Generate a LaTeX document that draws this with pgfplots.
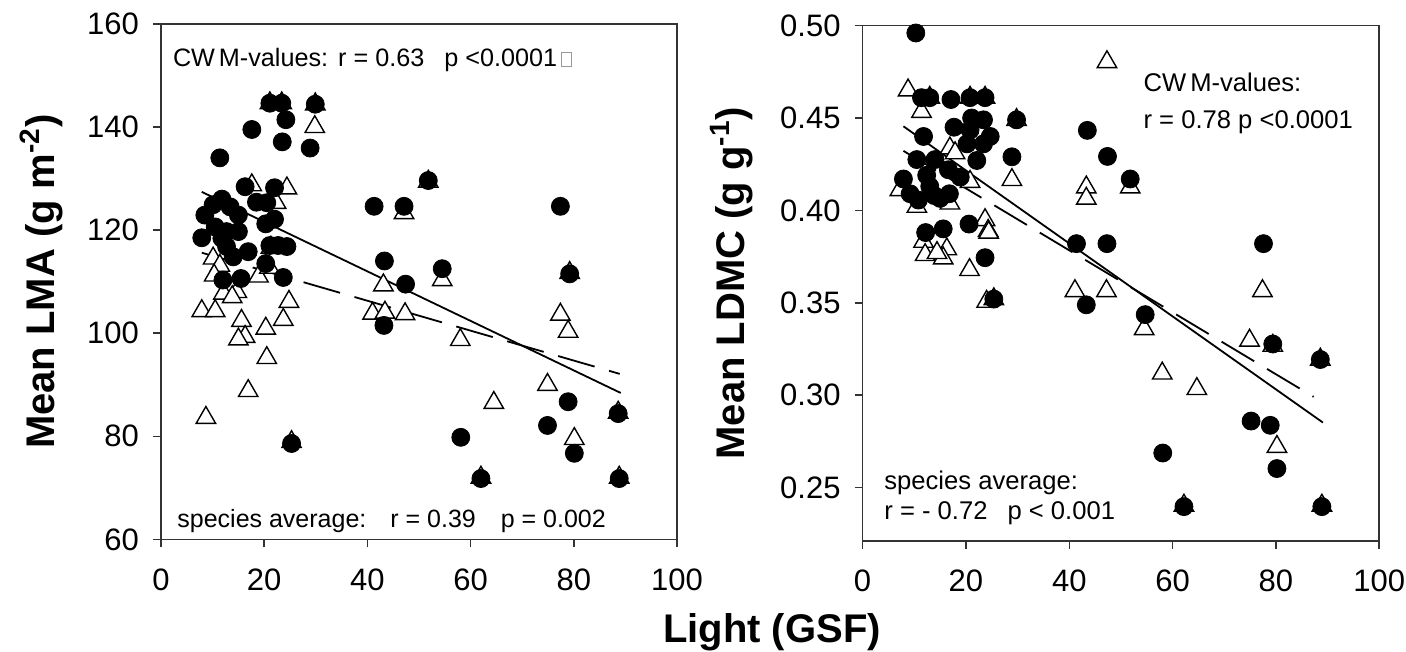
\documentclass[border=0pt]{standalone}
\usepackage{pgfplots}
\usepackage{pgfplotstable}
\pgfplotsset{compat=1.18}
\usepackage{fontspec}
\setmainfont{Liberation Sans}

\pgfplotstableread{
x y
21.1 144.6
23.4 144.6
29.9 144.4
24.2 141.4
17.6 139.5
23.5 137.1
28.9 135.9
11.4 134.0
16.3 128.4
22.0 128.2
51.8 129.6
41.3 124.6
47.1 124.6
77.4 124.6
11.8 126.0
18.5 125.4
20.5 125.3
10.1 124.9
13.4 124.5
8.5 122.9
15.0 122.9
22.0 122.1
20.3 121.2
10.5 120.6
12.7 119.7
15.0 119.7
7.9 118.5
11.8 118.4
21.1 117.0
22.7 117.0
24.4 116.8
12.7 116.8
16.9 115.8
14.0 114.8
20.3 113.5
12.0 110.3
15.5 110.6
23.7 110.8
43.3 114.0
47.4 109.5
54.5 112.5
79.2 111.5
43.2 101.5
25.3 78.6
58.1 79.8
74.9 82.1
78.9 86.7
80.1 76.7
62.0 71.8
88.6 84.4
88.8 71.8
}\leftcirc

\pgfplotstableread{
x y
21.1 144.6
23.4 144.6
29.9 144.4
29.8 140.0
17.6 128.7
24.4 128.1
22.3 125.3
21.3 116.6
51.8 129.4
47.1 123.3
79.2 111.7
10.1 114.5
11.4 113.1
10.3 111.2
12.1 107.7
14.7 108.0
13.8 107.0
18.9 111.0
21.0 112.7
7.9 104.3
10.5 104.3
24.8 106.1
23.7 102.6
15.6 102.4
20.3 100.9
16.3 99.3
15.0 98.8
20.5 95.2
16.9 88.8
8.7 83.6
25.3 78.9
43.1 109.3
41.0 103.8
43.4 104.0
47.3 103.7
54.5 110.3
58.0 98.7
64.5 86.5
74.9 90.0
77.4 103.6
78.9 100.3
80.1 79.5
62.0 72.0
88.6 84.6
88.8 72.0
}\lefttri

\pgfplotstableread{
x y
10.3 0.496
11.4 0.461
13.0 0.461
17.1 0.460
20.8 0.461
23.7 0.461
29.8 0.449
21.1 0.450
23.4 0.449
17.7 0.445
20.8 0.4435
11.8 0.440
24.7 0.440
23.4 0.436
20.2 0.436
22.1 0.427
28.9 0.429
10.5 0.4275
14.0 0.4275
7.9 0.417
16.6 0.422
18.9 0.418
12.4 0.419
9.2 0.409
13.0 0.413
13.9 0.408
10.8 0.4056
15.0 0.4065
16.8 0.409
20.6 0.3926
12.2 0.388
15.6 0.390
23.7 0.3744
25.4 0.352
43.5 0.4433
47.4 0.4292
51.8 0.417
41.4 0.382
47.3 0.382
43.3 0.3489
54.7 0.3436
77.6 0.382
79.4 0.3277
88.6 0.3193
75.2 0.286
78.9 0.2837
58.1 0.2687
80.2 0.2603
62.2 0.2397
88.9 0.2397
}\rightcirc

\pgfplotstableread{
x y
8.8 0.465
11.4 0.4534
13.0 0.461
20.8 0.461
23.7 0.461
29.8 0.449
16.9 0.4336
17.9 0.431
28.9 0.4165
20.8 0.4155
16.9 0.4038
10.5 0.402
7.2 0.411
23.7 0.3948
24.3 0.389
24.4 0.388
11.8 0.3831
16.3 0.379
12.1 0.3759
15.6 0.3741
14.4 0.377
20.7 0.3678
24.0 0.3506
25.4 0.352
47.3 0.4803
43.3 0.4125
43.3 0.4064
51.8 0.4125
41.1 0.3564
47.2 0.3564
54.5 0.3358
77.4 0.3564
74.9 0.3296
79.4 0.3268
88.6 0.3193
58.0 0.3118
64.7 0.3034
80.2 0.2721
62.2 0.2403
88.9 0.2403
}\righttri

\newcommand{\mybox}{{\color{black!40}\setlength{\fboxsep}{0pt}\setlength{\fboxrule}{0.4pt}\fbox{\rule{0pt}{7pt}\hspace{4.5pt}}}}

\pgfplotsset{
  myaxis/.style={
    scale only axis,
    anchor=south west,
    xmin=0, xmax=100,
    xtick={0,20,40,60,80,100},
    axis line style={line width=0.75pt, black!80},
    every tick/.style={line width=0.75pt, black!80},
    tick align=outside,
    major tick length=4pt,
    xtick pos=left, ytick pos=left,
    ticklabel style={font=\fontsize{15.5}{17}\selectfont},
    yticklabel style={xshift=-3.5pt},
    xticklabel style={yshift=-7pt},
    /pgf/number format/assume math mode=true,
    ylabel style={font=\fontsize{20}{24}\selectfont\bfseries},
    clip=false,
  },
  tri/.style={only marks, mark=triangle*, mark size=5.6pt,
    mark options={fill=white, draw=black, line width=0.7pt}},
  circ/.style={only marks, mark=*, mark size=4.5pt,
    mark options={fill=black, draw=black}},
}

\begin{document}
\begin{tikzpicture}
\path[use as bounding box] (0,0) rectangle (703pt,326pt);

\begin{axis}[myaxis,
  at={(80.5pt,56.3pt)}, width=258pt, height=257.8pt,
  ymin=60, ymax=160, ytick={60,80,100,120,140,160},
  ylabel={Mean LMA (g m\textsuperscript{-2})},
  ylabel style={at={(axis description cs:-0.206,0.5)}, anchor=base},
]
\addplot[tri] table {\lefttri};
\addplot[black, line width=0.9pt] coordinates {(7.9,127.4) (89.1,88.4)};
\addplot[black, line width=0.9pt, dash pattern=on 19pt off 7.5pt] coordinates {(7.9,115.6) (88.9,92.1)};
\addplot[circ] table {\leftcirc};
\end{axis}

\begin{axis}[myaxis,
  at={(431.3pt,55.5pt)}, width=258.3pt, height=257.7pt,
  ymin=0.2211, ymax=0.50, ytick={0.25,0.30,0.35,0.40,0.45,0.50},
  yticklabel style={/pgf/number format/.cd, fixed, fixed zerofill, precision=2},
  ylabel={Mean LDMC (g g\textsuperscript{-1})},
  ylabel style={at={(axis description cs:-0.228,0.5)}, anchor=base},
]
\addplot[tri] table {\righttri};
\addplot[black, line width=0.9pt] coordinates {(7.9,0.4455) (89.1,0.2852)};
\addplot[black, line width=0.9pt, dash pattern=on 19pt off 7.5pt] coordinates {(7.9,0.4322) (87.3,0.2991)};
\addplot[circ] table {\rightcirc};
\end{axis}

\begin{scope}[every node/.style={inner sep=0pt, anchor=base west}]
\node[font=\fontsize{12.6}{15}\selectfont] at (86.3pt,292.75pt)
  {CW\kern2pt M-values:\hspace{5pt}r = 0.63\hspace{10pt}p <0.0001\hspace{2pt}\mybox};
\node[font=\fontsize{12.5}{15}\selectfont] at (88.5pt,62pt)
  {species average:\hspace{12pt}r = 0.39\hspace{12.5pt}p = 0.002};
\node[font=\fontsize{12.8}{15}\selectfont] at (571.6pt,280.2pt) {CW\kern2pt M-values:};
\node[font=\fontsize{12.8}{15}\selectfont] at (571.6pt,261.5pt) {r = 0.78 p <0.0001};
\node[font=\fontsize{12.8}{15}\selectfont] at (442pt,81.4pt) {species average:};
\node[font=\fontsize{12.8}{15}\selectfont] at (442pt,66pt) {r = - 0.72\hspace{10pt}p < 0.001};
\end{scope}

\node[anchor=base, inner sep=0pt, font=\fontsize{20}{24}\selectfont\bfseries] at (386pt,4.5pt) {Light (GSF)};
\end{tikzpicture}
\end{document}
